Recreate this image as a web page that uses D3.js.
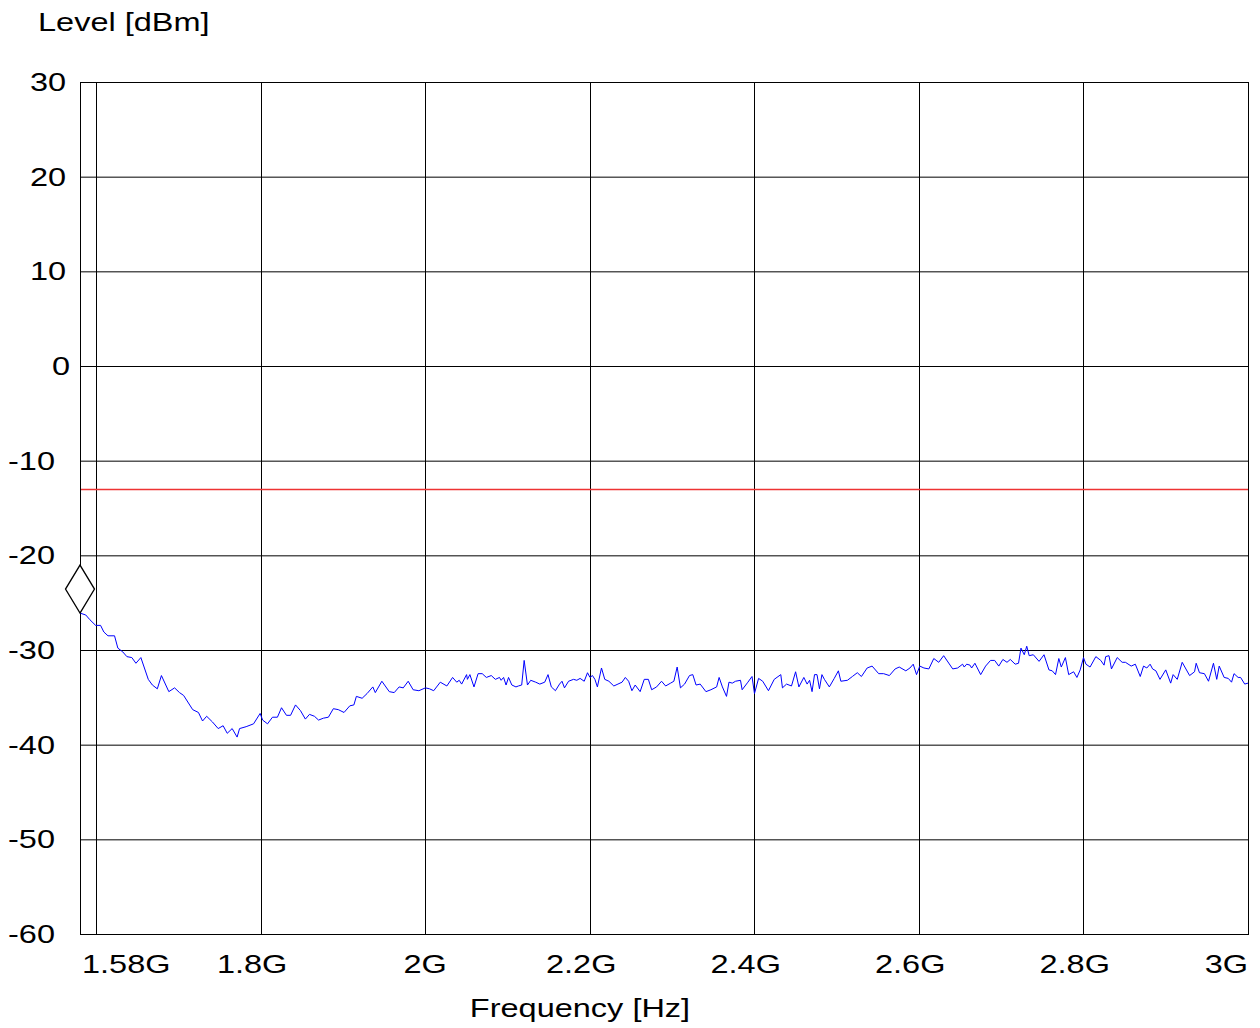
<!DOCTYPE html>
<html>
<head>
<meta charset="utf-8">
<script src="https://cdn.jsdelivr.net/npm/d3@7"></script>
<style>
  body { margin: 0; background: #fff; }
  svg text { font-family: "Liberation Sans", Arial, sans-serif; fill: #000; }
</style>
</head>
<body>
<svg id="chart" width="1260" height="1028"></svg>
<script>
// trace (MHz, dBm)
var freqMHz = [1580,1587,1592,1599,1605,1609,1614,1622,1626,1632,1637,1643,1648,1654,1663,1668,1674,1679,1688,1695,
  1701,1706,1717,1724,1729,1734,1741,1748,1754,1759,1765,1771,1774,1782,1791,1799,1802,1808,1814,1820,
  1825,1831,1836,1842,1848,1854,1859,1865,1870,1876,1882,1888,1894,1901,1908,1913,1916,1923,1929,1936,
  1939,1947,1956,1962,1968,1973,1979,1985,1992,2000,2005,2010,2018,2026,2033,2038,2041,2044,2050,2051,
  2054,2059,2064,2069,2074,2080,2085,2090,2092,2095,2098,2101,2105,2110,2113,2117,2120,2124,2128,2134,
  2139,2145,2149,2153,2158,2163,2166,2169,2174,2180,2184,2188,2193,2197,2200,2203,2206,2209,2214,2218,
  2223,2229,2234,2239,2243,2247,2251,2255,2261,2266,2271,2275,2281,2287,2292,2298,2302,2306,2310,2315,
  2321,2325,2329,2334,2341,2347,2354,2357,2361,2366,2369,2373,2377,2383,2385,2392,2397,2400,2405,2410,
  2417,2424,2432,2434,2439,2445,2450,2454,2460,2464,2467,2470,2473,2476,2479,2482,2485,2491,2497,2502,
  2505,2513,2519,2525,2530,2537,2543,2551,2557,2564,2571,2576,2584,2589,2593,2597,2601,2606,2612,2618,
  2624,2630,2641,2647,2653,2655,2658,2662,2664,2668,2675,2681,2687,2692,2697,2702,2707,2711,2717,2721,
  2724,2728,2731,2734,2739,2746,2752,2758,2762,2766,2770,2773,2778,2782,2788,2792,2796,2800,2803,2808,
  2815,2821,2825,2827,2831,2834,2841,2847,2851,2858,2863,2869,2873,2877,2881,2884,2888,2893,2900,2906,
  2909,2914,2920,2929,2935,2937,2941,2947,2952,2958,2962,2965,2971,2976,2980,2983,2988,2991,2996,3000];
var levelDbm = [-26.1,-26.3,-26.8,-27.4,-27.4,-28.1,-28.5,-28.5,-29.8,-30.2,-30.7,-30.8,-31.4,-30.8,-33.1,-33.7,-34.1,-32.7,-34.4,-34.0,
  -34.5,-34.8,-36.3,-36.6,-37.5,-37.0,-37.6,-38.3,-38.0,-38.8,-38.3,-39.2,-38.3,-38.1,-37.8,-36.7,-37.4,-37.8,-37.1,-37.1,
  -36.1,-36.9,-36.9,-35.8,-36.4,-37.3,-36.8,-37.0,-37.4,-37.2,-37.1,-36.2,-36.3,-36.6,-35.9,-35.8,-34.9,-35.1,-34.6,-33.9,
  -34.5,-33.3,-34.4,-34.5,-33.9,-34.0,-33.3,-34.2,-34.3,-34.0,-34.1,-34.3,-33.4,-33.8,-32.9,-33.4,-33.2,-33.6,-32.6,-33.1,
  -32.6,-33.9,-32.5,-32.5,-32.9,-32.7,-33.1,-32.9,-33.2,-32.9,-33.7,-32.9,-33.7,-33.9,-33.8,-33.7,-31.1,-33.7,-33.2,-33.4,
  -33.6,-33.4,-32.6,-33.9,-34.3,-33.6,-33.3,-34.0,-33.3,-33.1,-33.2,-33.0,-33.3,-32.4,-32.9,-32.7,-33.1,-33.9,-31.9,-33.1,
  -33.3,-33.8,-33.6,-33.4,-32.9,-33.3,-34.3,-33.7,-34.4,-33.1,-33.1,-34.2,-33.9,-33.3,-33.8,-33.5,-33.3,-31.8,-34.0,-33.6,
  -32.7,-32.6,-33.7,-33.6,-34.4,-34.2,-33.9,-32.9,-33.9,-34.9,-33.4,-33.5,-33.3,-33.2,-34.2,-33.4,-32.8,-34.6,-33.0,-33.3,
  -34.3,-33.1,-32.6,-34.0,-33.6,-33.8,-32.3,-33.9,-32.9,-33.6,-33.2,-34.4,-32.6,-32.6,-34.1,-32.6,-33.1,-33.9,-33.0,-32.2,
  -33.3,-33.2,-32.8,-32.4,-32.8,-31.9,-31.7,-32.5,-32.5,-32.7,-32.0,-31.8,-32.2,-31.9,-31.5,-32.6,-31.7,-31.9,-32.0,-30.9,
  -31.3,-30.6,-32.0,-31.9,-31.5,-31.8,-31.5,-31.6,-31.9,-31.4,-32.6,-31.7,-31.1,-31.1,-31.7,-31.0,-31.3,-31.0,-31.5,-31.4,
  -29.8,-30.5,-29.6,-30.6,-30.5,-31.2,-30.5,-32.1,-32.2,-32.6,-30.9,-31.8,-30.8,-32.6,-32.3,-32.9,-32.1,-30.8,-31.5,-31.8,
  -30.7,-31.1,-31.6,-30.7,-30.6,-32.0,-30.8,-31.3,-31.3,-31.7,-31.5,-32.8,-31.7,-31.9,-31.5,-32.0,-32.2,-33.1,-32.1,-33.5,
  -32.6,-33.1,-31.3,-32.7,-32.3,-31.4,-32.4,-32.5,-33.3,-31.4,-33.1,-31.7,-32.9,-33.0,-33.4,-32.5,-32.9,-32.9,-33.6,-33.5];

var yTicks = [30, 20, 10, 0, -10, -20, -30, -40, -50, -60];
var xGrid = [1600, 1800, 2000, 2200, 2400, 2600, 2800, 3000];
var xLabelVals = [1580, 1800, 2000, 2200, 2400, 2600, 2800, 3000];
var xLabels = ["1.58G", "1.8G", "2G", "2.2G", "2.4G", "2.6G", "2.8G", "3G"];
var limitDbm = -13;
var markerMHz = 1580, markerDbm = -26.1;

var plotL = 80, plotR = 1248, plotT = 82, plotB = 934;
var svg = d3.select("#chart");

var x = d3.scaleLinear().domain([1580, 3000]).range([plotL, plotR]);
var y = d3.scaleLinear().domain([-60, 30]).range([plotB, plotT]);

// text in the original is stretched sideways
function label(px, py, str, anchor) {
  svg.append("text")
    .attr("transform", "translate(" + px + "," + py + ") scale(1.3,1)")
    .attr("text-anchor", anchor)
    .attr("font-size", 25)
    .text(str);
}

// grid
svg.append("g").selectAll("line").data(yTicks).enter().append("line")
  .attr("x1", plotL).attr("x2", plotR)
  .attr("y1", function(d) { return y(d) + 0.5; })
  .attr("y2", function(d) { return y(d) + 0.5; })
  .attr("stroke", "#000").attr("stroke-width", 1);

svg.append("g").selectAll("line").data(xGrid).enter().append("line")
  .attr("x1", function(d) { return Math.round(x(d)) + 0.5; })
  .attr("x2", function(d) { return Math.round(x(d)) + 0.5; })
  .attr("y1", plotT).attr("y2", plotB)
  .attr("stroke", "#000").attr("stroke-width", 1);

svg.append("rect")
  .attr("x", plotL + 0.5).attr("y", plotT + 0.5)
  .attr("width", plotR - plotL).attr("height", plotB - plotT)
  .attr("fill", "none").attr("stroke", "#000").attr("stroke-width", 1);

// limit line
svg.append("line")
  .attr("x1", plotL + 1).attr("x2", plotR)
  .attr("y1", y(limitDbm) + 0.5).attr("y2", y(limitDbm) + 0.5)
  .attr("stroke", "#ee3333").attr("stroke-width", 1.5);

// trace
var pts = freqMHz.map(function(f, i) { return [f, levelDbm[i]]; });
svg.append("path")
  .datum(pts)
  .attr("fill", "none")
  .attr("stroke", "#0000ff")
  .attr("stroke-width", 1)
  .attr("d", d3.line().x(function(d) { return x(d[0]); }).y(function(d) { return y(d[1]); }));

// marker diamond, bottom tip on the trace
var mx = x(markerMHz), my = y(markerDbm);
svg.append("path")
  .attr("d", "M" + mx + "," + my + " L" + (mx + 14.5) + "," + (my - 24) +
             " L" + mx + "," + (my - 48) + " L" + (mx - 14.5) + "," + (my - 24) + " Z")
  .attr("fill", "#fff").attr("stroke", "#000").attr("stroke-width", 1.3);

// y tick labels: the original places them by character count, not measured width
yTicks.forEach(function(t) { label(74 - 22 * String(t).length, y(t) + 9, t, "start"); });

// x tick labels
xLabelVals.forEach(function(v, i) {
  var s = xLabels[i];
  if (i === 0) label(plotL + 2, 973, s, "start");
  else if (i === xLabels.length - 1) label(plotR, 973, s, "end");
  else label(x(v) - 11 * s.length, 973, s, "start");
});

label(38, 31, "Level [dBm]", "start");
label(580, 1017, "Frequency [Hz]", "middle");
</script>
</body>
</html>
